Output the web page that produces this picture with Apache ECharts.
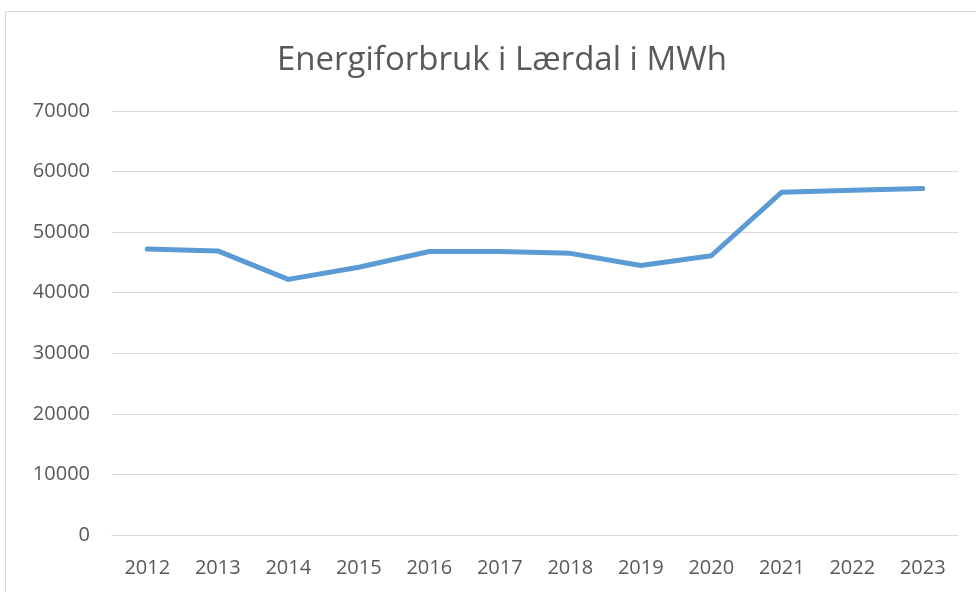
<!DOCTYPE html>
<html>
<head>
<meta charset="utf-8">
<script src="https://cdn.jsdelivr.net/npm/echarts@6/dist/echarts.min.js"></script>
<style>
  html, body { margin: 0; padding: 0; background: #fff; }
  #frame {
    position: absolute; left: 5px; top: 11px; width: 980px; height: 600px;
    border: 1px solid #d9d9d9; box-sizing: border-box;
  }
  #chart { position: absolute; left: 0; top: 0; width: 976px; height: 592px; }
</style>
</head>
<body>
<div id="frame"></div>
<div id="chart"></div>
<script>
const years = ['2012', '2013', '2014', '2015', '2016', '2017', '2018', '2019', '2020', '2021', '2022', '2023']
const consumption = [47200, 46900, 42200, 44200, 46800, 46800, 46500, 44500, 46100, 56600, 56900, 57200]
const title = 'Energiforbruk i Lærdal i MWh'

const chart = echarts.init(document.getElementById('chart'))
chart.setOption({
  animation: false,
  title: {
    text: title,
    left: 272,
    top: 39,
    textStyle: {
      fontFamily: 'Open Sans',
      fontWeight: 'normal',
      fontSize: 33,
      color: '#595959',
    },
  },
  grid: {
    left: 112,
    right: 18,
    top: 111,
    bottom: 57,
  },
  xAxis: {
    type: 'category',
    data: years,
    axisLine: { show: true, lineStyle: { color: '#d9d9d9', width: 1 } },
    axisTick: { show: false },
    axisLabel: {
      color: '#595959',
      fontSize: 20,
      fontFamily: 'Open Sans',
      margin: 23,
    },
  },
  yAxis: {
    type: 'value',
    min: 0,
    max: 70000,
    interval: 10000,
    axisLine: { show: false },
    axisTick: { show: false },
    splitLine: { lineStyle: { color: '#d9d9d9', width: 1 } },
    axisLabel: {
      color: '#595959',
      fontSize: 20,
      fontFamily: 'Open Sans',
      margin: 22,
      formatter: (v) => String(v),
    },
  },
  series: [
    {
      type: 'line',
      data: consumption,
      symbol: 'none',
      lineStyle: { color: '#5b9bd5', width: 5, cap: 'round', join: 'round' },
    },
  ],
})
</script>
</body>
</html>
